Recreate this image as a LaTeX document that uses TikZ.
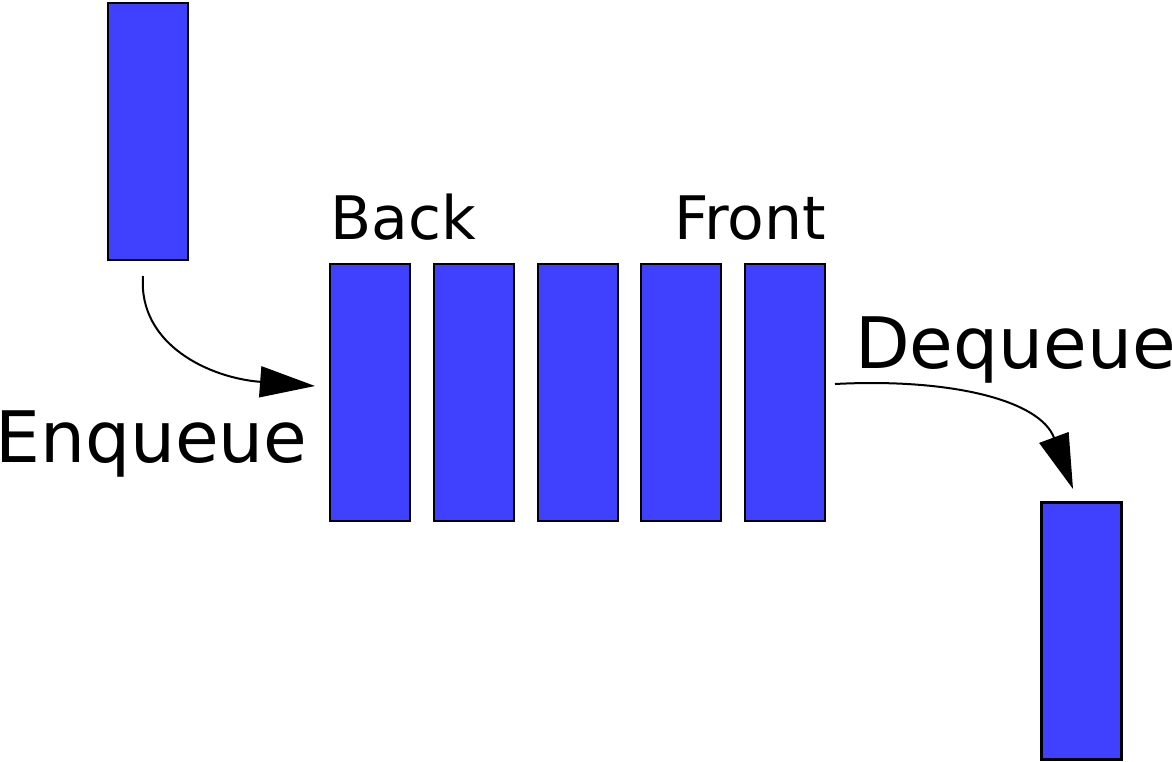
\documentclass[tikz,border=0pt]{standalone}
\usepackage{fontspec}
\setmainfont{DejaVu Sans}
\usetikzlibrary{arrows.meta}
\definecolor{qblue}{HTML}{4040FF}
\begin{document}
\begin{tikzpicture}[x=1pt,y=-1pt,
  item/.style={draw=black,line width=2.4pt,fill=qblue,minimum width=80pt,minimum height=257pt,inner sep=0pt,outer sep=0pt},
  lbl/.style={anchor=base west,inner sep=0pt,font=\fontsize{60}{70}\selectfont},
  biglbl/.style={anchor=base west,inner sep=0pt,font=\fontsize{71}{84}\selectfont},
  flow/.style={line width=2pt,-{Triangle[length=55pt,width=31pt]}}]
\useasboundingbox (0,0) rectangle (1172,762);
\node[item] (in) at (148,131.5) {};
\node[item] (q1) at (370,392.5) {};
\node[item] (q2) at (474,392.5) {};
\node[item] (q3) at (578,392.5) {};
\node[item] (q4) at (681,392.5) {};
\node[item] (q5) at (785,392.5) {};
\node[item] (out) at (1081.5,631) {};
\node[lbl] (back) at (330,240) {Back};
\node[lbl] (front) at (674,240) {Front};
\node[biglbl] (enq) at (-5,462) {Enqueue};
\node[biglbl] (deq) at (855,368) {Dequeue};
\coordinate (es) at (143,276);
\coordinate (ee) at (315,386);
\coordinate (ds) at (835,384);
\coordinate (de) at (1073,489);
\draw[flow] (es) .. controls (138,345) and (210,378) .. (ee);
\draw[flow] (ds) .. controls (950,378) and (1040,400) .. (de);
\end{tikzpicture}
\end{document}
